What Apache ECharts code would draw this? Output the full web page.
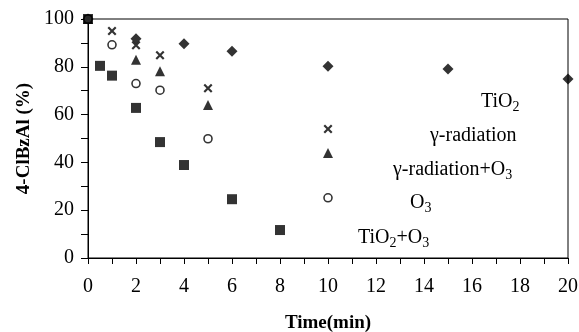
<!DOCTYPE html>
<html><head><meta charset="utf-8">
<script src="https://cdn.jsdelivr.net/npm/echarts@6/dist/echarts.min.js"></script>
<style>html,body{margin:0;padding:0;background:#fff}#c{width:579px;height:332px}</style>
</head><body><div id="c"></div>
<script>
const tio2O3_t = [0, 0.5, 1, 2, 3, 4, 6, 8];
const tio2O3_v = [100, 80.4, 76.3, 62.8, 48.5, 38.9, 24.6, 11.7];
const o3_t = [0, 1, 2, 3, 5, 10];
const o3_v = [100, 89.2, 73, 70.2, 49.9, 25.2];
const gammaO3_t = [0, 2, 3, 5, 10];
const gammaO3_v = [100, 83, 78.1, 64, 43.9];
const gamma_t = [0, 1, 2, 3, 5, 10];
const gamma_v = [100, 95, 89, 84.8, 71, 54];
const tio2_t = [0, 2, 4, 6, 10, 15, 20];
const tio2_v = [100, 91.7, 89.6, 86.5, 80.2, 79.1, 74.9];
const xTicks = [0, 2, 4, 6, 8, 10, 12, 14, 16, 18, 20];
const yTicks = [0, 20, 40, 60, 80, 100];
const labelTexts = ['{n|TiO}{s|2}', '{n|γ-radiation}', '{n|γ-radiation+O}{s|3}', '{n|O}{s|3}', '{n|TiO}{s|2}{n|+O}{s|3}'];

const zip = (a, b) => a.map((x, i) => [x, b[i]]);
const font = '"Liberation Serif", "DejaVu Serif", serif';
const crossPath = 'path://M0,1.7L1.7,0L5,3.3L8.3,0L10,1.7L6.7,5L10,8.3L8.3,10L5,6.7L1.7,10L0,8.3L3.3,5Z';
const rich = {
  n: { fontSize: 20, fontFamily: font, lineHeight: 24, verticalAlign: 'middle', color: '#000' },
  s: { fontSize: 14, fontFamily: font, lineHeight: 24, verticalAlign: 'bottom', padding: [10, 0, 0, 0], color: '#000' }
};
const labelPos = [[481, 102], [430, 136], [393, 170], [410, 203], [358, 238]];

const chart = echarts.init(document.getElementById('c'));
const base = { type: 'scatter', clip: false, z: 5 };
chart.setOption({
  animation: false,
  grid: { left: 88, right: 11, top: 19, bottom: 74, show: true, borderColor: '#000', borderWidth: 1, outerBoundsMode: 'none', containLabel: false },
  xAxis: {
    type: 'value', min: xTicks[0], max: xTicks[xTicks.length - 1], interval: 2,
    axisLine: { lineStyle: { color: '#000', width: 1 } },
    axisTick: { length: 6, lineStyle: { color: '#000' } },
    minorTick: { show: true, splitNumber: 2, length: 6, lineStyle: { color: '#000' } },
    splitLine: { show: false },
    axisLabel: { color: '#000', fontSize: 20, fontFamily: font, margin: 19 },
    name: 'Time(min)', nameLocation: 'middle', nameGap: 56,
    nameTextStyle: { color: '#000', fontSize: 19, fontWeight: 'bold', fontFamily: font }
  },
  yAxis: {
    type: 'value', min: yTicks[0], max: yTicks[yTicks.length - 1], interval: 20,
    axisLine: { show: true, lineStyle: { color: '#000', width: 1 } },
    axisTick: { show: true, length: 7, lineStyle: { color: '#000' } },
    minorTick: { show: true, splitNumber: 2, length: 7, lineStyle: { color: '#000' } },
    splitLine: { show: false },
    axisLabel: { color: '#000', fontSize: 20, fontFamily: font, margin: 14 },
    name: '4-ClBzAl (%)', nameLocation: 'middle', nameGap: 48, nameRotate: 90,
    nameTextStyle: { color: '#000', fontSize: 19, fontWeight: 'bold', fontFamily: font }
  },
  series: [
    Object.assign({}, base, { name: 'TiO2', data: zip(tio2_t, tio2_v), symbol: 'diamond', symbolSize: 11, itemStyle: { color: '#000' } }),
    Object.assign({}, base, { name: 'γ-radiation', data: zip(gamma_t, gamma_v), symbol: crossPath, symbolSize: 9, itemStyle: { color: '#000' } }),
    Object.assign({}, base, { name: 'γ-radiation+O3', data: zip(gammaO3_t, gammaO3_v), symbol: 'triangle', symbolSize: 10, itemStyle: { color: '#000' } }),
    Object.assign({}, base, { name: 'O3', data: zip(o3_t, o3_v), symbol: 'circle', symbolSize: 8, itemStyle: { color: '#fff', borderColor: '#000', borderWidth: 1.6 } }),
    Object.assign({}, base, { name: 'TiO2+O3', data: zip(tio2O3_t, tio2O3_v), symbol: 'rect', symbolSize: 10, itemStyle: { color: '#000' }, z: 6 })
  ],
  graphic: labelTexts.map((t, i) => ({
    type: 'text', x: labelPos[i][0], y: labelPos[i][1],
    style: { text: t, rich: rich, verticalAlign: 'middle', fill: '#000' }
  }))
});
</script></body></html>
